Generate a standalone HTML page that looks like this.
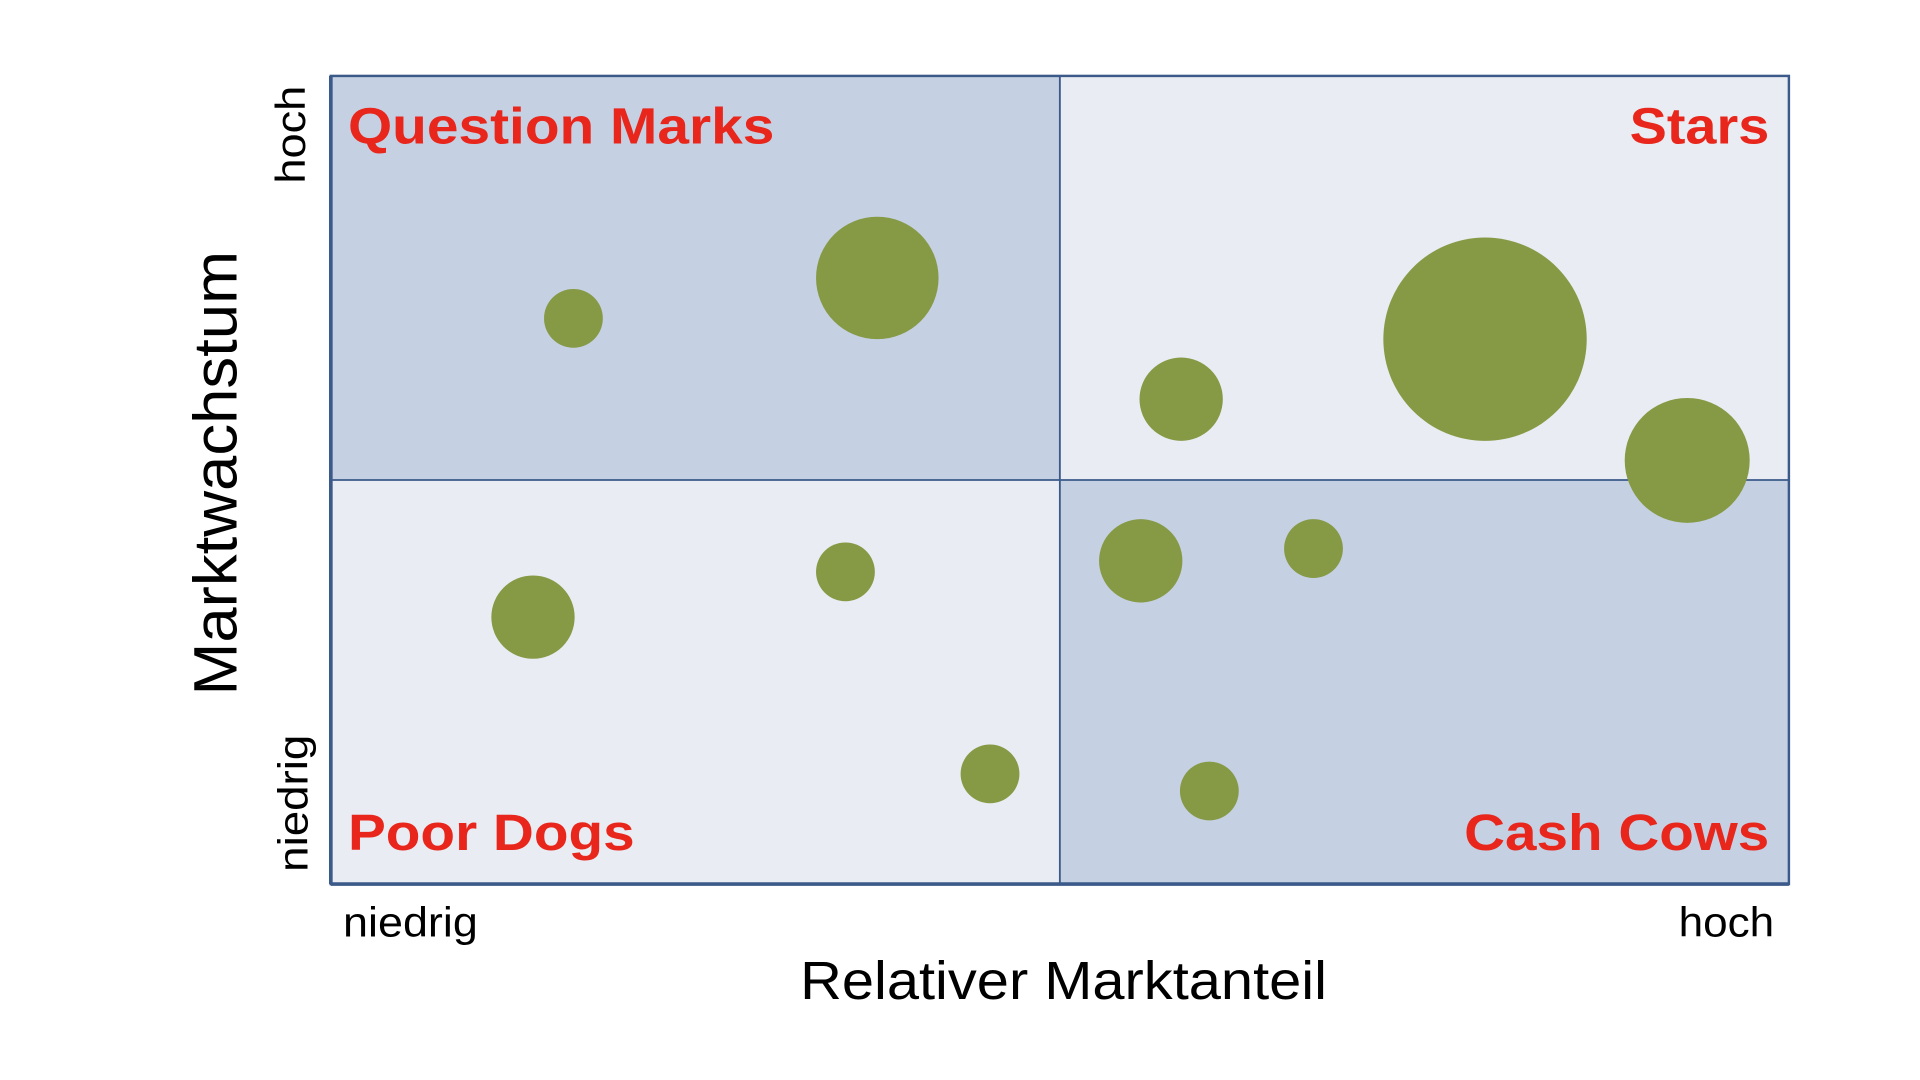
<!DOCTYPE html>
<html><head><style>html,body{margin:0;padding:0;background:#fff;}svg{display:block}</style></head>
<body>
<svg width="1920" height="1080" viewBox="0 0 1567 882" preserveAspectRatio="none" xmlns="http://www.w3.org/2000/svg" font-family="Liberation Sans, Arial, sans-serif">
<rect x="0" y="0" width="1567" height="882" fill="#fff"/>
<rect x="270" y="62" width="595" height="330" fill="#c5d0e2"/>
<rect x="865" y="62" width="595" height="330" fill="#e9ecf2"/>
<rect x="270" y="392" width="595" height="330" fill="#e9ecf2"/>
<rect x="865" y="392" width="595" height="330" fill="#c5d0e2"/>
<rect x="270" y="62" width="1190" height="660" fill="none" stroke="#3b5a8a" stroke-width="2"/>
<line x1="270" y1="62" x2="270" y2="722" stroke="#3b5a8a" stroke-width="3"/>
<line x1="270" y1="722" x2="1460" y2="722" stroke="#3b5a8a" stroke-width="3"/>
<line x1="865" y1="62" x2="865" y2="722" stroke="#3b5a8a" stroke-width="1.5"/>
<line x1="270" y1="392" x2="1460" y2="392" stroke="#3b5a8a" stroke-width="1.5"/>
<g fill="#869a45">
<circle cx="468" cy="260" r="24"/>
<circle cx="716" cy="227" r="50"/>
<circle cx="964" cy="326" r="34"/>
<circle cx="1212" cy="277" r="83"/>
<circle cx="1377" cy="376" r="51"/>
<circle cx="931" cy="458" r="34"/>
<circle cx="1072" cy="448" r="24"/>
<circle cx="435" cy="504" r="34"/>
<circle cx="690" cy="467" r="24"/>
<circle cx="808" cy="632" r="24"/>
<circle cx="987" cy="646" r="24"/>
</g>
<g fill="#e8261c" font-weight="bold" font-size="42">
<text x="284" y="117" textLength="348" lengthAdjust="spacingAndGlyphs">Question Marks</text>
<text x="1330" y="117" textLength="114" lengthAdjust="spacingAndGlyphs">Stars</text>
<text x="284" y="694" textLength="234" lengthAdjust="spacingAndGlyphs">Poor Dogs</text>
<text x="1195" y="694" textLength="249" lengthAdjust="spacingAndGlyphs">Cash Cows</text>
</g>
<g fill="#000">
<text transform="translate(249,150) rotate(-90)" font-size="34" textLength="80" lengthAdjust="spacingAndGlyphs">hoch</text>
<text transform="translate(251,712) rotate(-90)" font-size="34" textLength="112" lengthAdjust="spacingAndGlyphs">niedrig</text>
<text transform="translate(193,568) rotate(-90)" font-size="50" textLength="363" lengthAdjust="spacingAndGlyphs">Marktwachstum</text>
<text x="280" y="765" font-size="34" textLength="110" lengthAdjust="spacingAndGlyphs">niedrig</text>
<text x="1370" y="765" font-size="34" textLength="78" lengthAdjust="spacingAndGlyphs">hoch</text>
<text x="653" y="816" font-size="44" textLength="430" lengthAdjust="spacingAndGlyphs">Relativer Marktanteil</text>
</g>
</svg>
</body></html>
